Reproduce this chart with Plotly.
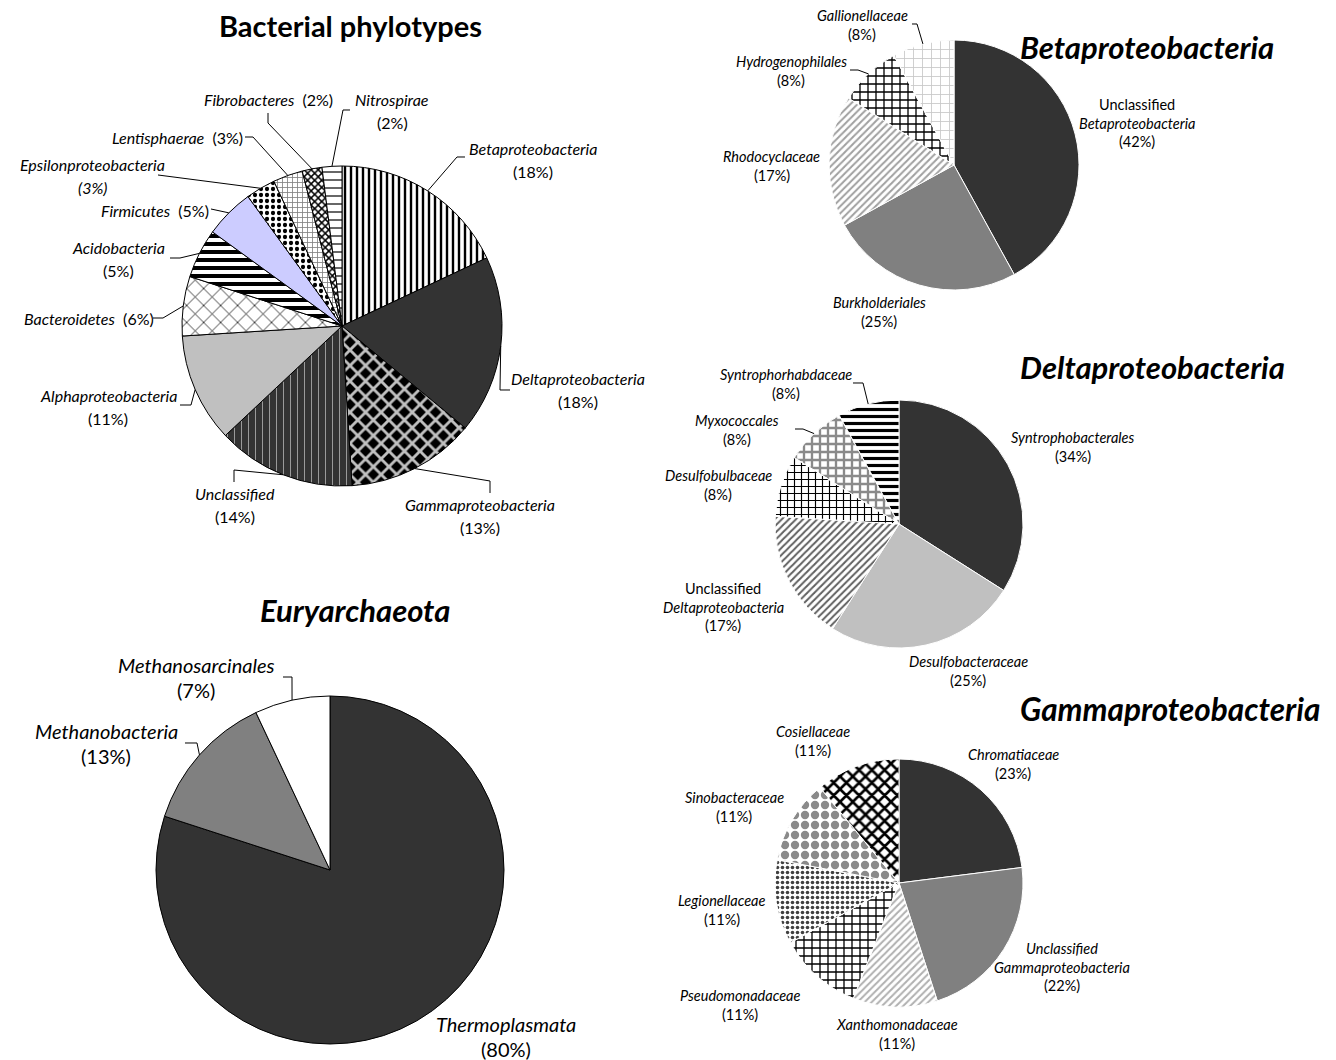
import math
import plotly.graph_objects as go

W, H = 1336, 1060
FONT = "Lato"

# ---------------- data ----------------
bact_labels = ["Betaproteobacteria", "Deltaproteobacteria", "Gammaproteobacteria", "Unclassified",
               "Alphaproteobacteria", "Bacteroidetes", "Acidobacteria", "Firmicutes",
               "Epsilonproteobacteria", "Lentisphaerae", "Fibrobacteres", "Nitrospirae"]
bact_values = [18, 18, 13, 14, 11, 6, 5, 5, 3, 3, 2, 2]

beta_labels = ["Unclassified Betaproteobacteria", "Burkholderiales", "Rhodocyclaceae",
               "Hydrogenophilales", "Gallionellaceae"]
beta_values = [42, 25, 17, 8, 8]

delta_labels = ["Syntrophobacterales", "Desulfobacteraceae", "Unclassified Deltaproteobacteria",
                "Desulfobulbaceae", "Myxococcales", "Syntrophorhabdaceae"]
delta_values = [34, 25, 17, 8, 8, 8]

gamma_labels = ["Chromatiaceae", "Unclassified Gammaproteobacteria", "Xanthomonadaceae",
                "Pseudomonadaceae", "Legionellaceae", "Sinobacteraceae", "Cosiellaceae"]
gamma_values = [23, 22, 11, 11, 11, 11, 11]

eury_labels = ["Thermoplasmata", "Methanobacteria", "Methanosarcinales"]
eury_values = [80, 13, 7]

# ---------------- styles ----------------
def P(shape, fg, bg, size=8, sol=0.3):
    return dict(shape=shape, fg=fg, bg=bg, size=size, sol=sol)

bact_style = [
    P("|", "#000000", "#ffffff", 6, 0.4),
    P("", "#333333", "#333333"),
    P("x", "#c0c0c0", "#000000", 11, 0.45),
    P("|", "#9a9a9a", "#333333", 7, 0.15),
    P("", "#c0c0c0", "#c0c0c0"),
    P("x", "#000000", "#ffffff", 12, 0.12),
    P("-", "#000000", "#ffffff", 8, 0.5),
    P("", "#ccccff", "#ccccff"),
    P(".", "#000000", "#ffffff", 6, 0.4),
    P("+", "#808080", "#ffffff", 5, 0.3),
    P("x", "#000000", "#ffffff", 5, 0.5),
    P("-", "#000000", "#ffffff", 8, 0.15),
]
beta_style = [
    P("", "#333333", "#333333"),
    P("", "#808080", "#808080"),
    P("/", "#a0a0a0", "#ffffff", 5, 0.4),
    P("+", "#000000", "#ffffff", 8, 0.3),
    P("+", "#c8c8c8", "#ffffff", 9, 0.18),
]
delta_style = [
    P("", "#333333", "#333333"),
    P("", "#c0c0c0", "#c0c0c0"),
    P("/", "#606060", "#ffffff", 5, 0.4),
    P("+", "#000000", "#ffffff", 7, 0.3),
    P("+", "#8a8a8a", "#ffffff", 8, 0.5),
    P("-", "#000000", "#ffffff", 7, 0.45),
]
gamma_style = [
    P("", "#333333", "#333333"),
    P("", "#808080", "#808080"),
    P("/", "#b0b0b0", "#ffffff", 5, 0.4),
    P("+", "#000000", "#ffffff", 8, 0.3),
    P(".", "#404040", "#ffffff", 5, 0.4),
    P(".", "#8a8a8a", "#ffffff", 10, 0.55),
    P("x", "#000000", "#ffffff", 9, 0.5),
]
eury_style = [
    P("", "#333333", "#333333"),
    P("", "#808080", "#808080"),
    P("", "#ffffff", "#ffffff"),
]

# ---------------- layout config (pixels) ----------------
pies = [
    dict(labels=bact_labels, values=bact_values, style=bact_style, c=(342, 326), r=160,
         line="#000000", fs=16, sp=23,
         ann=[
             dict(pos=(533, 160), lead=[(465, 157), (457, 157)]),
             dict(pos=(578, 390), lead=[(510, 390), (500, 390)]),
             dict(pos=(480, 516), lead=[(490, 493), (490, 481)]),
             dict(pos=(235, 505), lead=[(234, 482), (234, 470)]),
             dict(pos=(108, 407), lead=[(180, 405), (191, 405)]),
             dict(pos=(89, 318), one=True, lead=[(153, 318), (163, 318)]),
             dict(pos=(119, 259), lead=[(170, 258), (180, 258)]),
             dict(pos=(155, 210), one=True, lead=[(211, 209)]),
             dict(pos=(92, 176), pit=True, lead=[(158, 175)]),
             dict(pos=(177, 137), one=True, lead=[(245, 137), (253, 137)]),
             dict(pos=(268, 100), one=True, lead=[(268, 113), (268, 123)]),
             dict(pos=(392, 111), lead=[(350, 110), (343, 110)]),
         ]),
    dict(labels=beta_labels, values=beta_values, style=beta_style, c=(954, 165), r=125,
         line="#ffffff", fs=14.5, sp=18.5, uncl_italic=False,
         ann=[
             dict(pos=(1137, 123)),
             dict(pos=(879, 312)),
             dict(pos=(772, 166)),
             dict(pos=(791, 71), lead=[(850, 70), (858, 70)]),
             dict(pos=(862, 25), lead=[(912, 24), (917, 24)]),
         ]),
    dict(labels=delta_labels, values=delta_values, style=delta_style, c=(899, 524), r=124,
         line="#ffffff", fs=14.5, sp=18.5, uncl_italic=False,
         ann=[
             dict(pos=(1073, 447)),
             dict(pos=(968, 671)),
             dict(pos=(723, 607)),
             dict(pos=(718, 485)),
             dict(pos=(737, 430), lead=[(795, 429), (803, 429)]),
             dict(pos=(786, 384), lead=[(853, 383), (863, 383)]),
         ]),
    dict(labels=gamma_labels, values=gamma_values, style=gamma_style, c=(899, 883), r=124,
         line="#ffffff", fs=14.5, sp=18.5, uncl_italic=True,
         ann=[
             dict(pos=(1013, 764)),
             dict(pos=(1062, 967)),
             dict(pos=(897, 1034)),
             dict(pos=(740, 1005)),
             dict(pos=(722, 910)),
             dict(pos=(734, 807)),
             dict(pos=(813, 741)),
         ]),
    dict(labels=eury_labels, values=eury_values, style=eury_style, c=(330, 870), r=174,
         line="#000000", fs=20, sp=25,
         ann=[
             dict(pos=(506, 1036)),
             dict(pos=(106, 743), lead=[(185, 743), (197, 743)]),
             dict(pos=(196, 677), lead=[(283, 677), (292, 677)]),
         ]),
]

titles = [
    dict(text="<b>Bacterial phylotypes</b>", x=351, y=25, anchor="center", size=29),
    dict(text="<b><i>Betaproteobacteria</i></b>", x=1018, y=47, anchor="left", size=31),
    dict(text="<b><i>Deltaproteobacteria</i></b>", x=1018, y=367, anchor="left", size=31),
    dict(text="<b><i>Gammaproteobacteria</i></b>", x=1018, y=709, anchor="left", size=31.5),
    dict(text="<b><i>Euryarchaeota</i></b>", x=355, y=610, anchor="center", size=31),
]


def fx(x):
    return x / W


def fy(y):
    return 1 - y / H


def label_lines(name, val, a, pie):
    pct = f"({val}%)"
    if a.get("pit"):
        pct = f"<i>{pct}</i>"
    if name.startswith("Unclassified "):
        rest = name[len("Unclassified "):]
        first = "<i>Unclassified</i>" if pie.get("uncl_italic") else "Unclassified"
        return [first, f"<i>{rest}</i>", pct]
    if a.get("one"):
        return [f"<i>{name}</i>  {pct}"]
    return [f"<i>{name}</i>", pct]


fig = go.Figure()
annotations = []
shapes = []

for pie in pies:
    cx, cy = pie["c"]
    r = pie["r"]
    st = pie["style"]
    fig.add_trace(go.Pie(
        labels=pie["labels"], values=pie["values"], sort=False, direction="clockwise",
        rotation=0, textinfo="none", hoverinfo="label+percent", showlegend=False,
        domain=dict(x=[fx(cx - r), fx(cx + r)], y=[fy(cy + r), fy(cy - r)]),
        marker=dict(
            colors=[s["bg"] for s in st],
            line=dict(color=pie["line"], width=1),
            pattern=dict(shape=[s["shape"] for s in st],
                         fgcolor=[s["fg"] for s in st],
                         bgcolor=[s["bg"] for s in st],
                         size=[s["size"] for s in st],
                         solidity=[s["sol"] for s in st],
                         fillmode="replace"),
        ),
    ))
    total = sum(pie["values"])
    cum = 0
    for name, val, a in zip(pie["labels"], pie["values"], pie["ann"]):
        mid = (cum + val / 2) / total
        cum += val
        th = 2 * math.pi * mid
        ex, ey = cx + r * math.sin(th), cy - r * math.cos(th)
        lines = label_lines(name, val, a, pie)
        n = len(lines)
        for i, ln in enumerate(lines):
            ly = a["pos"][1] + (i - (n - 1) / 2) * pie["sp"]
            annotations.append(dict(
                x=fx(a["pos"][0]), y=fy(ly), xref="paper", yref="paper",
                text=ln, showarrow=False, xanchor="center", yanchor="middle",
                font=dict(family=FONT, size=pie["fs"], color="#000000"),
            ))
        if a.get("lead"):
            pts = list(a["lead"]) + [(ex, ey)]
            path = "M " + " L ".join(f"{fx(px):.5f},{fy(py):.5f}" for px, py in pts)
            shapes.append(dict(type="path", path=path, xref="paper", yref="paper",
                               line=dict(color="#000000", width=1)))

for t in titles:
    annotations.append(dict(
        x=fx(t["x"]), y=fy(t["y"]), xref="paper", yref="paper", text=t["text"],
        showarrow=False, xanchor=t["anchor"], yanchor="middle",
        font=dict(family=FONT, size=t["size"], color="#000000"),
    ))

fig.update_layout(
    width=W, height=H, margin=dict(l=0, r=0, t=0, b=0),
    paper_bgcolor="#ffffff", plot_bgcolor="#ffffff",
    annotations=annotations, shapes=shapes,
)

fig.write_html("out.html", config={"displayModeBar": False},
               post_script="document.body.style.margin='0';document.body.style.overflow='hidden';")
